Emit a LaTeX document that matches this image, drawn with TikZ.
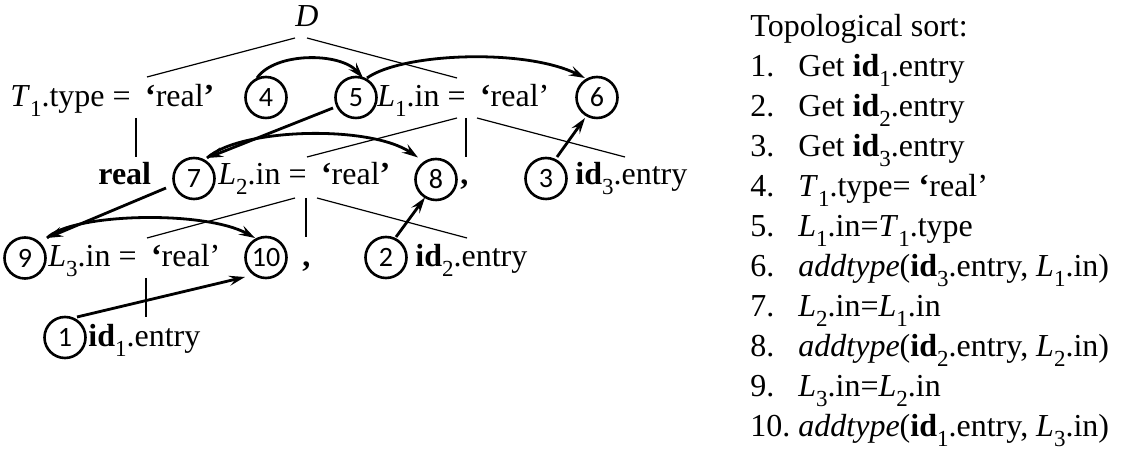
\documentclass[tikz,border=0pt]{standalone}
\usepackage{fontspec}
\setmainfont{Liberation Serif}
\newfontfamily\numfont{Carlito}
\usetikzlibrary{arrows.meta}
\newcommand{\sbf}[1]{\textbf{#1}}
\newcommand{\sbs}[1]{\raisebox{-0.3em}{\fontsize{11.5}{11.5}\selectfont\mdseries\upshape #1}}
\begin{document}
\begin{tikzpicture}[x=0.5pt,y=-0.5pt,
  txt/.style={anchor=base west, inner sep=0pt, font=\fontsize{16}{20}\selectfont},
  cnum/.style={circle, draw, line width=1.3pt, minimum size=20.5pt, inner sep=0pt, font=\numfont\fontsize{14}{14}\selectfont},
  treeline/.style={line width=0.6pt},
  dep/.style={line width=1.4pt, -{Stealth[length=8pt,width=5pt,inset=3pt]}}]
\useasboundingbox (0,0) rectangle (1125,453);
% tree texts
\node[txt, anchor=base] (D) at (307,27) {\textit{D}};
\node[txt] (T1) at (10,107) {\textit{T}\sbs{1}.type =\hspace{0.45em}\sbf{‘}real\sbf{’}};
\node[txt] (L1) at (377,107) {\textit{L}\sbs{1}.in =\hspace{0.45em}\sbf{‘}real’};
\node[txt] (real) at (98,185) {\textbf{real}};
\node[txt] (L2) at (218,185) {\textit{L}\sbs{2}.in =\hspace{0.45em}\sbf{‘}real\sbf{’}};
\node[txt] (comma1) at (460,185) {\textbf{,}};
\node[txt] (id3) at (575,185) {\textbf{id}\sbs{3}.entry};
\node[txt] (L3) at (48,267) {\textit{L}\sbs{3}.in =\hspace{0.45em}\sbf{‘}real’};
\node[txt] (comma2) at (302,267) {\textbf{,}};
\node[txt] (id2) at (415,267) {\textbf{id}\sbs{2}.entry};
\node[txt] (id1) at (88,347) {\textbf{id}\sbs{1}.entry};
% numbered circles
\node[cnum] (c4) at (266,97.5) {4};
\node[cnum] (c5) at (356,97.5) {5};
\node[cnum] (c6) at (597,97.5) {6};
\node[cnum] (c7) at (194,178.5) {7};
\node[cnum] (c8) at (436,179.5) {8};
\node[cnum] (c3) at (546,178.5) {3};
\node[cnum] (c9) at (25,258) {9};
\node[cnum] (c10) at (266,257.5) {10};
\node[cnum] (c2) at (386,257.5) {2};
\node[cnum] (c1) at (65,337.5) {1};
% parse tree connection points
\coordinate (Dl) at (295,38);
\coordinate (Dr) at (307,38);
\coordinate (T1t) at (147,77);
\coordinate (T1b) at (136,118);
\coordinate (realt) at (136,157);
\coordinate (L1t) at (457,78);
\coordinate (L1bl) at (457,118);
\coordinate (L1bm) at (466,118);
\coordinate (L1br) at (477,118);
\coordinate (L2t) at (307,157);
\coordinate (comma1t) at (466,157);
\coordinate (id3t) at (625,157);
\coordinate (L2bl) at (295,198);
\coordinate (L2bm) at (306,198);
\coordinate (L2br) at (317,198);
\coordinate (L3t) at (147,238);
\coordinate (comma2t) at (306,237);
\coordinate (id2t) at (467,238);
\coordinate (L3b) at (146,278);
\coordinate (id1t) at (146,317);
\draw[treeline] (Dl) -- (T1t);
\draw[treeline] (Dr) -- (L1t);
\draw[treeline] (T1b) -- (realt);
\draw[treeline] (L1bl) -- (L2t);
\draw[treeline] (L1bm) -- (comma1t);
\draw[treeline] (L1br) -- (id3t);
\draw[treeline] (L2bl) -- (L3t);
\draw[treeline] (L2bm) -- (comma2t);
\draw[treeline] (L2br) -- (id2t);
\draw[treeline] (L3b) -- (id1t);
% dependency arrows
\draw[dep] ([shift={(-9,-19.5)}]c4.center) .. controls +(18,-26) and +(-23,-26) .. ([shift={(7,-19.5)}]c5.center);
\draw[dep] ([shift={(11,-19.5)}]c5.center) .. controls +(35,-25) and +(-60,-30) .. ([shift={(-12,-19.5)}]c6.center);
\draw[dep] ([shift={(-23,10.5)}]c5.center) -- ([shift={(13,-20.5)}]c7.center);
\draw[dep] ([shift={(13,-20.5)}]c7.center) .. controls +(33,-30) and +(-48,-33) .. ([shift={(-18,-22)}]c8.center);
\draw[dep] ([shift={(11,-21.5)}]c3.center) -- ([shift={(-12,20.5)}]c6.center);
\draw[dep] ([shift={(-28,9.5)}]c7.center) -- ([shift={(22,-20)}]c9.center);
\draw[dep] ([shift={(22,-20)}]c9.center) .. controls +(25,-25) and +(-50,-28) .. ([shift={(-11,-19.5)}]c10.center);
\draw[dep] ([shift={(10,-20.5)}]c2.center) -- ([shift={(-11,18)}]c8.center);
\draw[dep] ([shift={(12,-20.5)}]c1.center) -- ([shift={(-21,19.5)}]c10.center);
% topological sort list
\node[txt] (hdr) at (750,37) {Topological sort:};
\node[txt] (n1) at (750,77) {1.};
\node[txt] (s1) at (798,77) {Get \textbf{id}\sbs{1}.entry};
\node[txt] (n2) at (750,117) {2.};
\node[txt] (s2) at (798,117) {Get \textbf{id}\sbs{2}.entry};
\node[txt] (n3) at (750,157) {3.};
\node[txt] (s3) at (798,157) {Get \textbf{id}\sbs{3}.entry};
\node[txt] (n4) at (750,197) {4.};
\node[txt] (s4) at (798,197) {\textit{T}\sbs{1}.type= \sbf{‘}real’};
\node[txt] (n5) at (750,237) {5.};
\node[txt] (s5) at (798,237) {\textit{L}\sbs{1}.in=\textit{T}\sbs{1}.type};
\node[txt] (n6) at (750,277) {6.};
\node[txt] (s6) at (798,277) {\textit{addtype}(\textbf{id}\sbs{3}.entry, \textit{L}\sbs{1}.in)};
\node[txt] (n7) at (750,317) {7.};
\node[txt] (s7) at (798,317) {\textit{L}\sbs{2}.in=\textit{L}\sbs{1}.in};
\node[txt] (n8) at (750,357) {8.};
\node[txt] (s8) at (798,357) {\textit{addtype}(\textbf{id}\sbs{2}.entry, \textit{L}\sbs{2}.in)};
\node[txt] (n9) at (750,397) {9.};
\node[txt] (s9) at (798,397) {\textit{L}\sbs{3}.in=\textit{L}\sbs{2}.in};
\node[txt] (n10) at (750,437) {10.};
\node[txt] (s10) at (798,437) {\textit{addtype}(\textbf{id}\sbs{1}.entry, \textit{L}\sbs{3}.in)};
\end{tikzpicture}
\end{document}
